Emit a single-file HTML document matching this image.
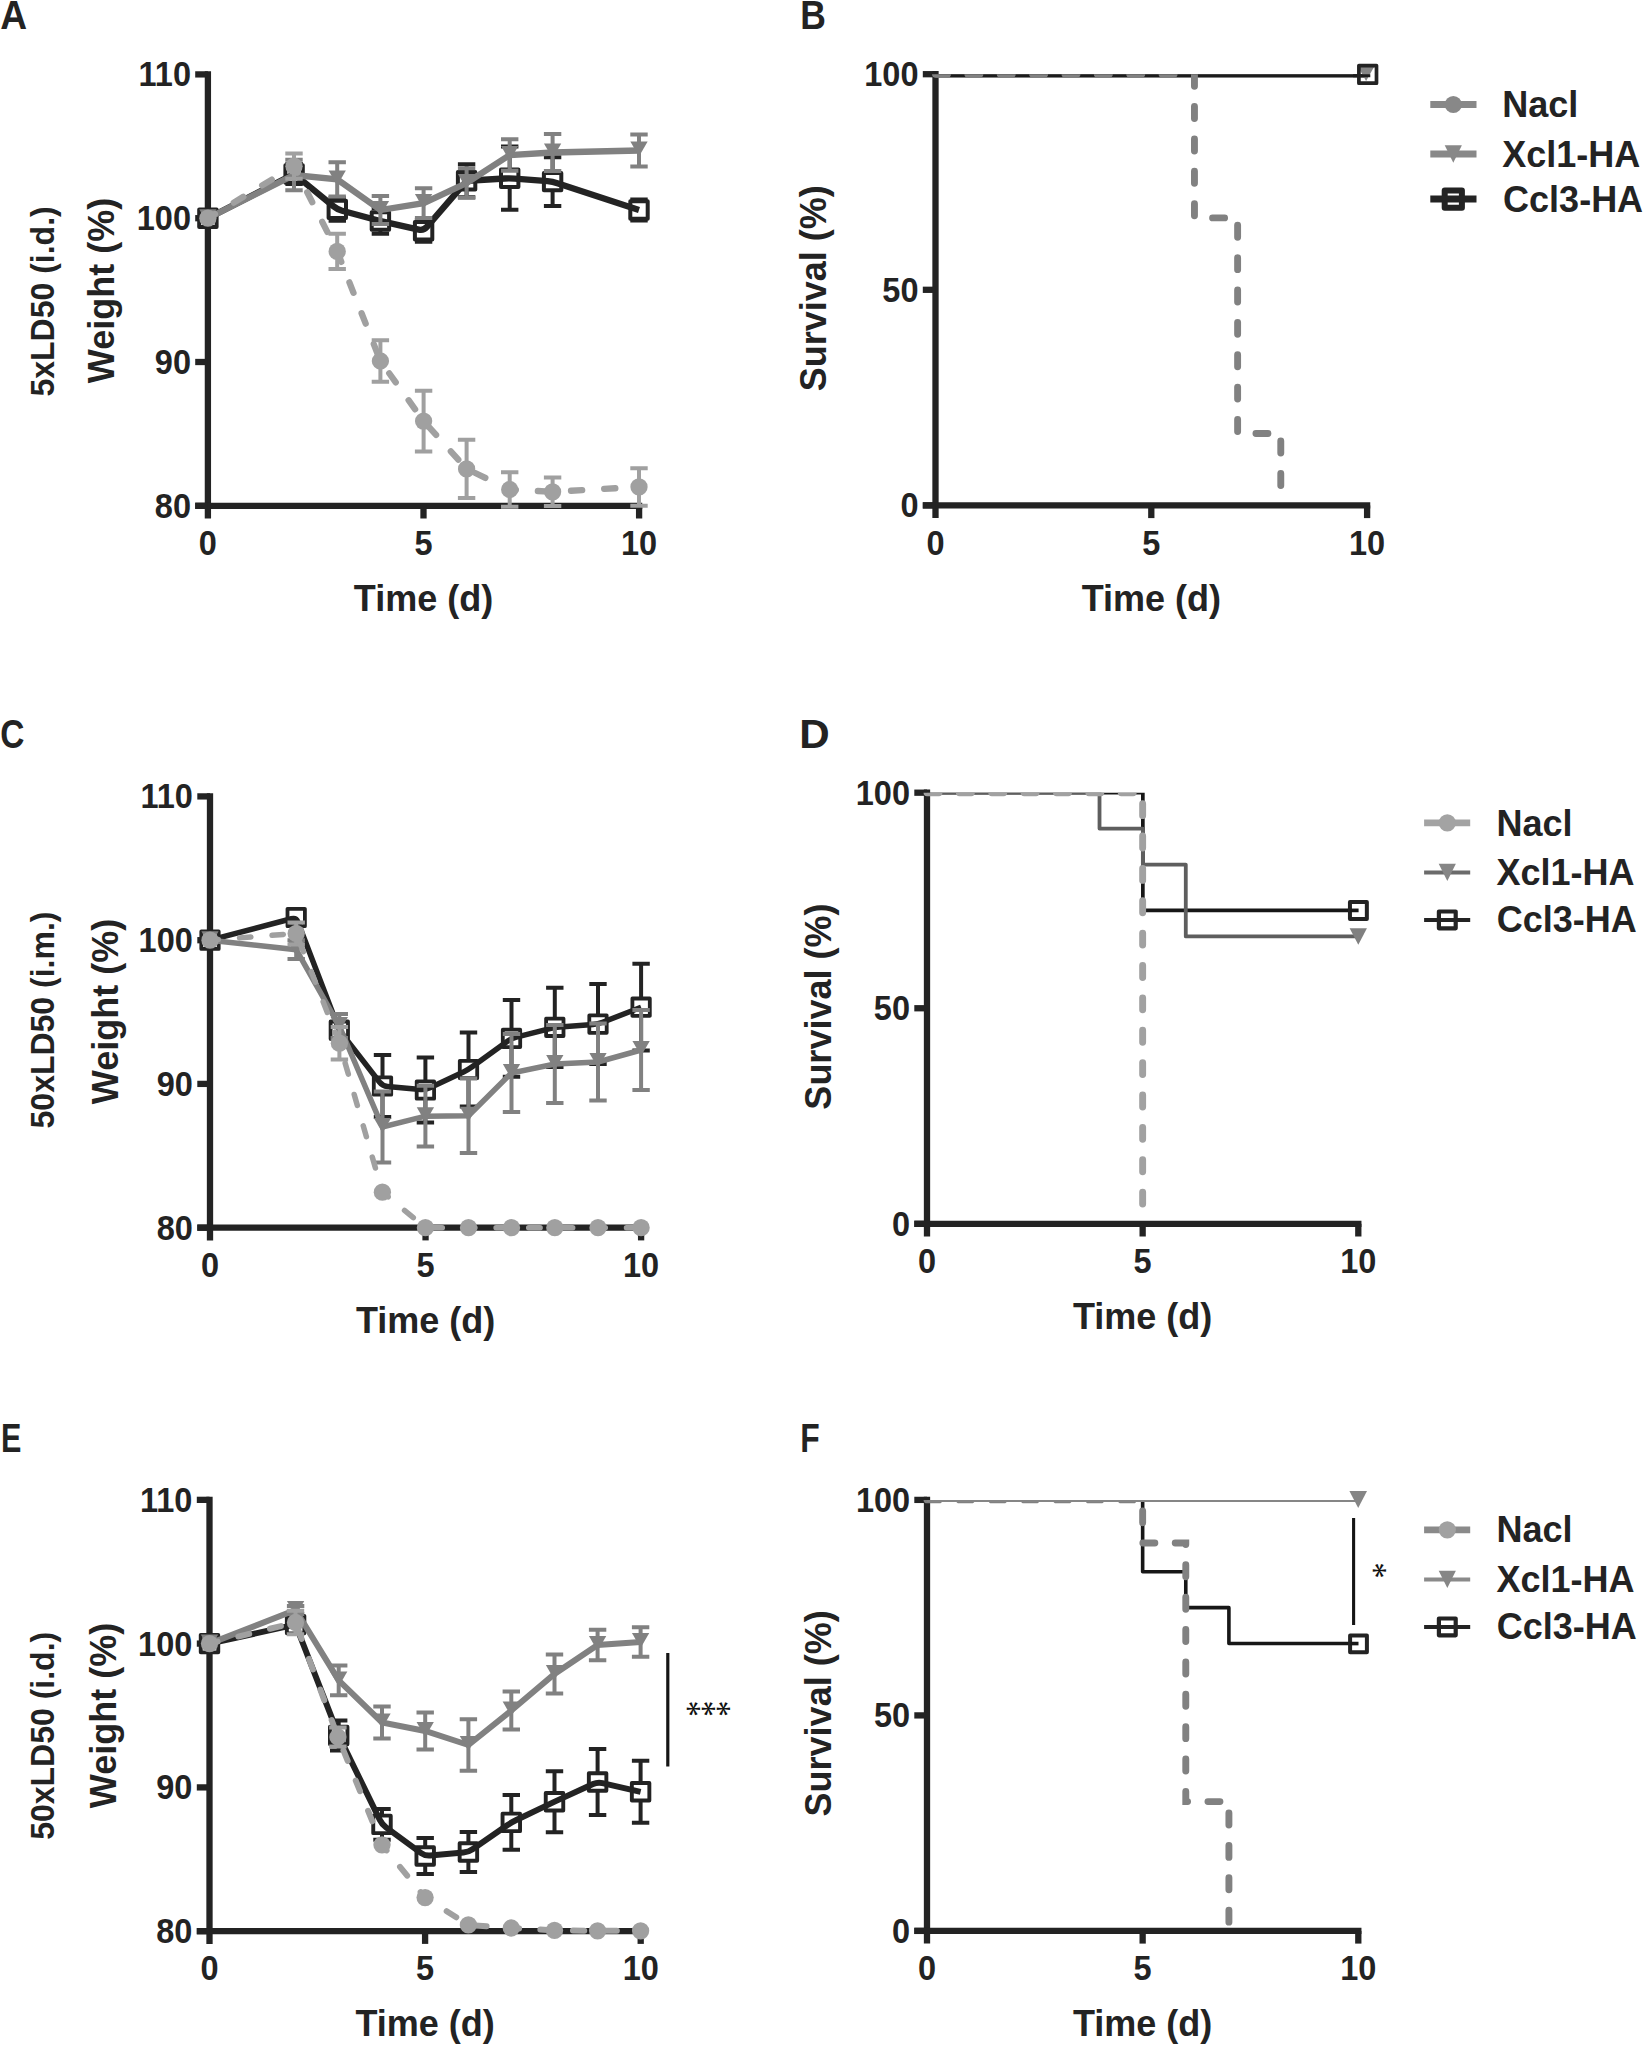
<!DOCTYPE html>
<html lang="en"><head><meta charset="utf-8"><title>Figure</title>
<style>html,body{margin:0;padding:0;background:#fff}svg{display:block}text{font-family:'Liberation Sans', Arial, Helvetica, sans-serif}</style>
</head><body>
<svg width="1643" height="2045" viewBox="0 0 1643 2045">
<rect width="1643" height="2045" fill="#ffffff"/>
<g id="panelA">
<text transform="translate(0.3 29) scale(0.9 1)" font-size="41.3" font-weight="bold" fill="#232323">A</text>
<path d="M207.9 71.25 V518.5" stroke="#232323" stroke-width="6.3" fill="none"/>
<path d="M195.2 505.8 H642.25" stroke="#232323" stroke-width="6.3" fill="none"/>
<path d="M195.2 74.4 H207.9" stroke="#232323" stroke-width="6.3"/>
<path d="M195.2 218.2 H207.9" stroke="#232323" stroke-width="6.3"/>
<path d="M195.2 362 H207.9" stroke="#232323" stroke-width="6.3"/>
<path d="M195.2 505.8 H207.9" stroke="#232323" stroke-width="6.3"/>
<path d="M423.5 505.8 V518.5" stroke="#232323" stroke-width="6.3"/>
<path d="M639.1 505.8 V518.5" stroke="#232323" stroke-width="6.3"/>
<path d="M294.1 164V184M285.4 164H302.8M285.4 184H302.8M337.3 198.1V220.7M328.6 198.1H346M328.6 220.7H346M380.4 208.3V233.7M371.7 208.3H389.1M371.7 233.7H389.1M423.6 219.7V241.7M414.9 219.7H432.3M414.9 241.7H432.3M466.6 164.3V197.3M457.9 164.3H475.3M457.9 197.3H475.3M509.7 146.6V209.8M501 146.6H518.4M501 209.8H518.4M552.6 157.3V205.9M543.9 157.3H561.3M543.9 205.9H561.3M639 199.6V220.4M630.3 199.6H647.7M630.3 220.4H647.7" stroke="#232323" stroke-width="4" fill="none"/>
<rect x="199.2" y="209.5" width="17.4" height="17.4" fill="#ffffff" stroke="#232323" stroke-width="4" stroke-linejoin="round"/>
<rect x="285.4" y="165.3" width="17.4" height="17.4" fill="#ffffff" stroke="#232323" stroke-width="4" stroke-linejoin="round"/>
<rect x="328.6" y="200.7" width="17.4" height="17.4" fill="#ffffff" stroke="#232323" stroke-width="4" stroke-linejoin="round"/>
<rect x="371.7" y="212.3" width="17.4" height="17.4" fill="#ffffff" stroke="#232323" stroke-width="4" stroke-linejoin="round"/>
<rect x="414.9" y="222" width="17.4" height="17.4" fill="#ffffff" stroke="#232323" stroke-width="4" stroke-linejoin="round"/>
<rect x="457.9" y="172.1" width="17.4" height="17.4" fill="#ffffff" stroke="#232323" stroke-width="4" stroke-linejoin="round"/>
<rect x="501" y="169.5" width="17.4" height="17.4" fill="#ffffff" stroke="#232323" stroke-width="4" stroke-linejoin="round"/>
<rect x="543.9" y="172.9" width="17.4" height="17.4" fill="#ffffff" stroke="#232323" stroke-width="4" stroke-linejoin="round"/>
<rect x="630.3" y="201.3" width="17.4" height="17.4" fill="#ffffff" stroke="#232323" stroke-width="4" stroke-linejoin="round"/>
<path d="M207.9 218.2 L289.65 176.28 Q294.1 174 297.97 177.17 L333.43 206.23 Q337.3 209.4 342.13 210.7 L375.57 219.7 Q380.4 221 385.28 222.1 L418.72 229.6 Q423.6 230.7 426.86 226.91 L463.34 184.59 Q466.6 180.8 471.59 180.5 L504.71 178.5 Q509.7 178.2 514.68 178.6 L547.62 181.2 Q552.6 181.6 557.35 183.16 L639 210" stroke="#232323" stroke-width="6.3" fill="none" stroke-linejoin="round"/>
<path d="M294 159.7V190.3M285.3 159.7H302.7M285.3 190.3H302.7M337.2 162.2V196.6M328.5 162.2H345.9M328.5 196.6H345.9M380.4 196V224M371.7 196H389.1M371.7 224H389.1M423.6 188.3V217.9M414.9 188.3H432.3M414.9 217.9H432.3M466.6 168.3V197.7M457.9 168.3H475.3M457.9 197.7H475.3M509.7 139.3V170.7M501 139.3H518.4M501 170.7H518.4M552.6 134.1V170.9M543.9 134.1H561.3M543.9 170.9H561.3M639 134.4V166.6M630.3 134.4H647.7M630.3 166.6H647.7" stroke="#818181" stroke-width="4" fill="none"/>
<path d="M207.9 218.2 L294 175 L337.2 179.4 L380.4 210 L423.6 203.1 L466.6 183 L509.7 155 L552.6 152.5 L639 150.5" stroke="#818181" stroke-width="6.3" fill="none" stroke-linejoin="miter"/>
<path d="M199.25 209.2H216.55L207.9 224.2Z" fill="#818181"/>
<path d="M285.35 166H302.65L294 181Z" fill="#818181"/>
<path d="M328.55 170.4H345.85L337.2 185.4Z" fill="#818181"/>
<path d="M371.75 201H389.05L380.4 216Z" fill="#818181"/>
<path d="M414.95 194.1H432.25L423.6 209.1Z" fill="#818181"/>
<path d="M457.95 174H475.25L466.6 189Z" fill="#818181"/>
<path d="M501.05 146H518.35L509.7 161Z" fill="#818181"/>
<path d="M543.95 143.5H561.25L552.6 158.5Z" fill="#818181"/>
<path d="M630.35 141.5H647.65L639 156.5Z" fill="#818181"/>
<path d="M294 153.6V178.8M285.3 153.6H302.7M285.3 178.8H302.7M337.2 233.7V269.1M328.5 233.7H345.9M328.5 269.1H345.9M380.4 340.3V381.7M371.7 340.3H389.1M371.7 381.7H389.1M423.6 390.7V451.5M414.9 390.7H432.3M414.9 451.5H432.3M466.6 439.7V498.1M457.9 439.7H475.3M457.9 498.1H475.3M509.7 472.2V506.8M501 472.2H518.4M501 506.8H518.4M552.6 477.5V506.1M543.9 477.5H561.3M543.9 506.1H561.3M639 468.15V505.65M630.3 468.15H647.7M630.3 505.65H647.7" stroke="#a0a0a0" stroke-width="4" fill="none"/>
<path d="M207.9 218.2 L294 166.2 L337.2 251.4 L380.4 361 L423.6 421.1 L466.6 468.9 L509.7 489.5 L552.6 491.8 L639 486.9" stroke="#a0a0a0" stroke-width="6.3" fill="none" stroke-linejoin="round" stroke-dasharray="11.2 22" stroke-dashoffset="3" stroke-linecap="round"/>
<circle cx="207.9" cy="218.2" r="8.65" fill="#a0a0a0"/>
<circle cx="294" cy="166.2" r="8.65" fill="#a0a0a0"/>
<circle cx="337.2" cy="251.4" r="8.65" fill="#a0a0a0"/>
<circle cx="380.4" cy="361" r="8.65" fill="#a0a0a0"/>
<circle cx="423.6" cy="421.1" r="8.65" fill="#a0a0a0"/>
<circle cx="466.6" cy="468.9" r="8.65" fill="#a0a0a0"/>
<circle cx="509.7" cy="489.5" r="8.65" fill="#a0a0a0"/>
<circle cx="552.6" cy="491.8" r="8.65" fill="#a0a0a0"/>
<circle cx="639" cy="486.9" r="8.65" fill="#a0a0a0"/>
<text transform="translate(191 86.4) scale(0.97 1.05)" font-size="33.5" font-weight="bold" text-anchor="end" fill="#232323">110</text>
<text transform="translate(191 230.2) scale(0.97 1.05)" font-size="33.5" font-weight="bold" text-anchor="end" fill="#232323">100</text>
<text transform="translate(191 374) scale(0.97 1.05)" font-size="33.5" font-weight="bold" text-anchor="end" fill="#232323">90</text>
<text transform="translate(191 517.8) scale(0.97 1.05)" font-size="33.5" font-weight="bold" text-anchor="end" fill="#232323">80</text>
<text transform="translate(207.9 555) scale(0.97 1.05)" font-size="33.5" font-weight="bold" text-anchor="middle" fill="#232323">0</text>
<text transform="translate(423.5 555) scale(0.97 1.05)" font-size="33.5" font-weight="bold" text-anchor="middle" fill="#232323">5</text>
<text transform="translate(639.1 555) scale(0.97 1.05)" font-size="33.5" font-weight="bold" text-anchor="middle" fill="#232323">10</text>
<text x="423.5" y="611" font-size="36" font-weight="bold" text-anchor="middle" fill="#232323">Time (d)</text>
<text transform="translate(54 301.4) rotate(-90) scale(1 1.035)" font-size="32" font-weight="bold" text-anchor="middle" fill="#232323">5xLD50 (i.d.)</text>
<text transform="translate(113.7 290.5) rotate(-90)" font-size="36" font-weight="bold" text-anchor="middle" fill="#232323">Weight (%)</text>
</g>
<g id="panelC">
<text transform="translate(0.2 748.3) scale(0.81 1)" font-size="41.3" font-weight="bold" fill="#232323">C</text>
<path d="M210 793.25 V1240.4" stroke="#232323" stroke-width="6.3" fill="none"/>
<path d="M197.3 1227.7 H644.25" stroke="#232323" stroke-width="6.3" fill="none"/>
<path d="M197.3 796.4 H210" stroke="#232323" stroke-width="6.3"/>
<path d="M197.3 940.2 H210" stroke="#232323" stroke-width="6.3"/>
<path d="M197.3 1083.9 H210" stroke="#232323" stroke-width="6.3"/>
<path d="M197.3 1227.7 H210" stroke="#232323" stroke-width="6.3"/>
<path d="M425.55 1227.7 V1240.4" stroke="#232323" stroke-width="6.3"/>
<path d="M641.1 1227.7 V1240.4" stroke="#232323" stroke-width="6.3"/>
<path d="M382.5 1055V1117M373.8 1055H391.2M373.8 1117H391.2M425.4 1057.4V1122.6M416.7 1057.4H434.1M416.7 1122.6H434.1M468.5 1032.5V1106.5M459.8 1032.5H477.2M459.8 1106.5H477.2M511.5 1000V1076.8M502.8 1000H520.2M502.8 1076.8H520.2M554.8 987.7V1066.9M546.1 987.7H563.5M546.1 1066.9H563.5M598 984.1V1064.1M589.3 984.1H606.7M589.3 1064.1H606.7M641.1 963.8V1050.6M632.4 963.8H649.8M632.4 1050.6H649.8" stroke="#232323" stroke-width="4" fill="none"/>
<rect x="201.3" y="931.5" width="17.4" height="17.4" fill="#ffffff" stroke="#232323" stroke-width="3.8" stroke-linejoin="round"/>
<rect x="287.5" y="908.8" width="17.4" height="17.4" fill="#ffffff" stroke="#232323" stroke-width="3.8" stroke-linejoin="round"/>
<rect x="330.6" y="1021.5" width="17.4" height="17.4" fill="#ffffff" stroke="#232323" stroke-width="3.8" stroke-linejoin="round"/>
<rect x="373.8" y="1077.3" width="17.4" height="17.4" fill="#ffffff" stroke="#232323" stroke-width="3.8" stroke-linejoin="round"/>
<rect x="416.7" y="1081.3" width="17.4" height="17.4" fill="#ffffff" stroke="#232323" stroke-width="3.8" stroke-linejoin="round"/>
<rect x="459.8" y="1060.8" width="17.4" height="17.4" fill="#ffffff" stroke="#232323" stroke-width="3.8" stroke-linejoin="round"/>
<rect x="502.8" y="1029.7" width="17.4" height="17.4" fill="#ffffff" stroke="#232323" stroke-width="3.8" stroke-linejoin="round"/>
<rect x="546.1" y="1018.6" width="17.4" height="17.4" fill="#ffffff" stroke="#232323" stroke-width="3.8" stroke-linejoin="round"/>
<rect x="589.3" y="1015.4" width="17.4" height="17.4" fill="#ffffff" stroke="#232323" stroke-width="3.8" stroke-linejoin="round"/>
<rect x="632.4" y="998.5" width="17.4" height="17.4" fill="#ffffff" stroke="#232323" stroke-width="3.8" stroke-linejoin="round"/>
<path d="M210 940.2 L291.36 918.77 Q296.2 917.5 297.99 922.17 L337.51 1025.53 Q339.3 1030.2 342.36 1034.15 L379.44 1082.05 Q382.5 1086 387.48 1086.46 L420.42 1089.54 Q425.4 1090 429.92 1087.85 L463.98 1071.65 Q468.5 1069.5 472.55 1066.57 L507.45 1041.33 Q511.5 1038.4 516.34 1037.16 L549.96 1028.54 Q554.8 1027.3 559.79 1026.93 L593.01 1024.47 Q598 1024.1 602.65 1022.27 L641.1 1007.2" stroke="#232323" stroke-width="5.5" fill="none" stroke-linejoin="round"/>
<path d="M296.2 940.3V959.1M287.5 940.3H304.9M287.5 959.1H304.9M339.3 1014V1038M330.6 1014H348M330.6 1038H348M382.5 1091.5V1162.5M373.8 1091.5H391.2M373.8 1162.5H391.2M425.4 1085.8V1146.6M416.7 1085.8H434.1M416.7 1146.6H434.1M468.5 1078.5V1152.9M459.8 1078.5H477.2M459.8 1152.9H477.2M511.5 1034V1112M502.8 1034H520.2M502.8 1112H520.2M554.8 1025V1103M546.1 1025H563.5M546.1 1103H563.5M598 1023.5V1100.5M589.3 1023.5H606.7M589.3 1100.5H606.7M641.1 1010V1090M632.4 1010H649.8M632.4 1090H649.8" stroke="#818181" stroke-width="4" fill="none"/>
<path d="M210 940.2 L296.2 949.7 L339.3 1026 L382.5 1127 L425.4 1116.2 L468.5 1115.7 L511.5 1073 L554.8 1064 L598 1062 L641.1 1050" stroke="#818181" stroke-width="5.5" fill="none" stroke-linejoin="miter"/>
<path d="M201.35 931.2H218.65L210 946.2Z" fill="#818181"/>
<path d="M287.55 940.7H304.85L296.2 955.7Z" fill="#818181"/>
<path d="M330.65 1017H347.95L339.3 1032Z" fill="#818181"/>
<path d="M373.85 1118H391.15L382.5 1133Z" fill="#818181"/>
<path d="M416.75 1107.2H434.05L425.4 1122.2Z" fill="#818181"/>
<path d="M459.85 1106.7H477.15L468.5 1121.7Z" fill="#818181"/>
<path d="M502.85 1064H520.15L511.5 1079Z" fill="#818181"/>
<path d="M546.15 1055H563.45L554.8 1070Z" fill="#818181"/>
<path d="M589.35 1053H606.65L598 1068Z" fill="#818181"/>
<path d="M632.45 1041H649.75L641.1 1056Z" fill="#818181"/>
<path d="M296.2 922.4V944.4M287.5 922.4H304.9M287.5 944.4H304.9M339.4 1026.9V1059.5M330.7 1026.9H348.1M330.7 1059.5H348.1" stroke="#a0a0a0" stroke-width="4" fill="none"/>
<path d="M210 940.2 L296.2 933.4 L339.4 1043.2 L382.4 1192.2 L425.4 1227.7 L468.5 1227.7 L511.5 1227.7 L554.8 1227.7 L598 1227.7 L641.1 1227.7" stroke="#a0a0a0" stroke-width="5.5" fill="none" stroke-linejoin="round" stroke-dasharray="11.4 21.2" stroke-dashoffset="3" stroke-linecap="round"/>
<circle cx="210" cy="940.2" r="8.65" fill="#a0a0a0"/>
<circle cx="296.2" cy="933.4" r="8.65" fill="#a0a0a0"/>
<circle cx="339.4" cy="1043.2" r="8.65" fill="#a0a0a0"/>
<circle cx="382.4" cy="1192.2" r="8.65" fill="#a0a0a0"/>
<circle cx="425.4" cy="1227.7" r="8.65" fill="#a0a0a0"/>
<circle cx="468.5" cy="1227.7" r="8.65" fill="#a0a0a0"/>
<circle cx="511.5" cy="1227.7" r="8.65" fill="#a0a0a0"/>
<circle cx="554.8" cy="1227.7" r="8.65" fill="#a0a0a0"/>
<circle cx="598" cy="1227.7" r="8.65" fill="#a0a0a0"/>
<circle cx="641.1" cy="1227.7" r="8.65" fill="#a0a0a0"/>
<text transform="translate(192.8 808.4) scale(0.97 1.05)" font-size="33.5" font-weight="bold" text-anchor="end" fill="#232323">110</text>
<text transform="translate(192.8 952.2) scale(0.97 1.05)" font-size="33.5" font-weight="bold" text-anchor="end" fill="#232323">100</text>
<text transform="translate(192.8 1095.9) scale(0.97 1.05)" font-size="33.5" font-weight="bold" text-anchor="end" fill="#232323">90</text>
<text transform="translate(192.8 1239.7) scale(0.97 1.05)" font-size="33.5" font-weight="bold" text-anchor="end" fill="#232323">80</text>
<text transform="translate(210 1276.9) scale(0.97 1.05)" font-size="33.5" font-weight="bold" text-anchor="middle" fill="#232323">0</text>
<text transform="translate(425.55 1276.9) scale(0.97 1.05)" font-size="33.5" font-weight="bold" text-anchor="middle" fill="#232323">5</text>
<text transform="translate(641.1 1276.9) scale(0.97 1.05)" font-size="33.5" font-weight="bold" text-anchor="middle" fill="#232323">10</text>
<text x="425.55" y="1332.9" font-size="36" font-weight="bold" text-anchor="middle" fill="#232323">Time (d)</text>
<text transform="translate(54 1020) rotate(-90) scale(1 1.035)" font-size="32" font-weight="bold" text-anchor="middle" fill="#232323">50xLD50 (i.m.)</text>
<text transform="translate(118 1011.5) rotate(-90)" font-size="36" font-weight="bold" text-anchor="middle" fill="#232323">Weight (%)</text>
</g>
<g id="panelE">
<text transform="translate(1.1 1451.7) scale(0.74 1)" font-size="41.3" font-weight="bold" fill="#232323">E</text>
<path d="M209.5 1496.7 V1943.9" stroke="#232323" stroke-width="6.3" fill="none"/>
<path d="M196.8 1931.2 H643.85" stroke="#232323" stroke-width="6.3" fill="none"/>
<path d="M196.8 1499.85 H209.5" stroke="#232323" stroke-width="6.3"/>
<path d="M196.8 1643.6 H209.5" stroke="#232323" stroke-width="6.3"/>
<path d="M196.8 1787.4 H209.5" stroke="#232323" stroke-width="6.3"/>
<path d="M196.8 1931.2 H209.5" stroke="#232323" stroke-width="6.3"/>
<path d="M425.1 1931.2 V1943.9" stroke="#232323" stroke-width="6.3"/>
<path d="M640.7 1931.2 V1943.9" stroke="#232323" stroke-width="6.3"/>
<path d="M295.6 1618.6V1630.6M286.9 1618.6H304.3M286.9 1630.6H304.3M338.7 1720.5V1750.5M330 1720.5H347.4M330 1750.5H347.4M382 1809V1839.8M373.3 1809H390.7M373.3 1839.8H390.7M425.2 1838V1874M416.5 1838H433.9M416.5 1874H433.9M468.4 1832V1872M459.7 1832H477.1M459.7 1872H477.1M511.3 1795V1849.8M502.6 1795H520M502.6 1849.8H520M554.5 1771.2V1832.2M545.8 1771.2H563.2M545.8 1832.2H563.2M597.6 1749V1815M588.9 1749H606.3M588.9 1815H606.3M640.6 1760.8V1822.8M631.9 1760.8H649.3M631.9 1822.8H649.3" stroke="#232323" stroke-width="4" fill="none"/>
<rect x="200.75" y="1634.85" width="17.5" height="17.5" fill="#ffffff" stroke="#232323" stroke-width="3.9" stroke-linejoin="round"/>
<rect x="286.85" y="1615.85" width="17.5" height="17.5" fill="#ffffff" stroke="#232323" stroke-width="3.9" stroke-linejoin="round"/>
<rect x="329.95" y="1726.75" width="17.5" height="17.5" fill="#ffffff" stroke="#232323" stroke-width="3.9" stroke-linejoin="round"/>
<rect x="373.25" y="1815.65" width="17.5" height="17.5" fill="#ffffff" stroke="#232323" stroke-width="3.9" stroke-linejoin="round"/>
<rect x="416.45" y="1847.25" width="17.5" height="17.5" fill="#ffffff" stroke="#232323" stroke-width="3.9" stroke-linejoin="round"/>
<rect x="459.65" y="1843.25" width="17.5" height="17.5" fill="#ffffff" stroke="#232323" stroke-width="3.9" stroke-linejoin="round"/>
<rect x="502.55" y="1813.65" width="17.5" height="17.5" fill="#ffffff" stroke="#232323" stroke-width="3.9" stroke-linejoin="round"/>
<rect x="545.75" y="1792.95" width="17.5" height="17.5" fill="#ffffff" stroke="#232323" stroke-width="3.9" stroke-linejoin="round"/>
<rect x="588.85" y="1773.25" width="17.5" height="17.5" fill="#ffffff" stroke="#232323" stroke-width="3.9" stroke-linejoin="round"/>
<rect x="631.85" y="1783.05" width="17.5" height="17.5" fill="#ffffff" stroke="#232323" stroke-width="3.9" stroke-linejoin="round"/>
<path d="M209.5 1643.6 L290.72 1625.68 Q295.6 1624.6 297.41 1629.26 L336.89 1730.84 Q338.7 1735.5 340.89 1740 L379.81 1819.9 Q382 1824.4 386.04 1827.35 L421.16 1853.05 Q425.2 1856 430.18 1855.54 L463.42 1852.46 Q468.4 1852 472.52 1849.16 L507.18 1825.24 Q511.3 1822.4 515.81 1820.24 L549.99 1803.86 Q554.5 1801.7 559.05 1799.62 L593.05 1784.08 Q597.6 1782 602.47 1783.11 L640.6 1791.8" stroke="#232323" stroke-width="6" fill="none" stroke-linejoin="round"/>
<path d="M295.6 1606V1614M286.9 1606H304.3M286.9 1614H304.3M338.7 1665.6V1695.2M330 1665.6H347.4M330 1695.2H347.4M382 1706.5V1738.5M373.3 1706.5H390.7M373.3 1738.5H390.7M425.2 1712.6V1749.4M416.5 1712.6H433.9M416.5 1749.4H433.9M468.4 1719.2V1770.8M459.7 1719.2H477.1M459.7 1770.8H477.1M511.3 1691.5V1729.5M502.6 1691.5H520M502.6 1729.5H520M554.5 1654.6V1693.4M545.8 1654.6H563.2M545.8 1693.4H563.2M597.6 1629.8V1660.2M588.9 1629.8H606.3M588.9 1660.2H606.3M640.6 1627.2V1656.8M631.9 1627.2H649.3M631.9 1656.8H649.3" stroke="#818181" stroke-width="4" fill="none"/>
<path d="M209.5 1643.6 L295.6 1610 L338.7 1680.4 L382 1722.5 L425.2 1731 L468.4 1745 L511.3 1710.5 L554.5 1674 L597.6 1645 L640.6 1642" stroke="#818181" stroke-width="6" fill="none" stroke-linejoin="miter"/>
<path d="M200.85 1634.6H218.15L209.5 1649.6Z" fill="#818181"/>
<path d="M286.95 1601H304.25L295.6 1616Z" fill="#818181"/>
<path d="M330.05 1671.4H347.35L338.7 1686.4Z" fill="#818181"/>
<path d="M373.35 1713.5H390.65L382 1728.5Z" fill="#818181"/>
<path d="M416.55 1722H433.85L425.2 1737Z" fill="#818181"/>
<path d="M459.75 1736H477.05L468.4 1751Z" fill="#818181"/>
<path d="M502.65 1701.5H519.95L511.3 1716.5Z" fill="#818181"/>
<path d="M545.85 1665H563.15L554.5 1680Z" fill="#818181"/>
<path d="M588.95 1636H606.25L597.6 1651Z" fill="#818181"/>
<path d="M631.95 1633H649.25L640.6 1648Z" fill="#818181"/>
<path d="M295.5 1610.7V1634.3M286.8 1610.7H304.2M286.8 1634.3H304.2M337.9 1727.4V1746.6M329.2 1727.4H346.6M329.2 1746.6H346.6" stroke="#a0a0a0" stroke-width="4" fill="none"/>
<path d="M209.5 1643.6 L295.5 1622.5 L337.9 1737 L382 1844.8 L425.1 1897.6 L468.4 1924.9 L511.3 1928 L554.5 1930.4 L597.6 1930.8 L640.6 1930.8" stroke="#a0a0a0" stroke-width="6" fill="none" stroke-linejoin="round" stroke-dasharray="11.3 21.3" stroke-dashoffset="3" stroke-linecap="round"/>
<circle cx="209.5" cy="1643.6" r="8.65" fill="#a0a0a0"/>
<circle cx="295.5" cy="1622.5" r="8.65" fill="#a0a0a0"/>
<circle cx="337.9" cy="1737" r="8.65" fill="#a0a0a0"/>
<circle cx="382" cy="1844.8" r="8.65" fill="#a0a0a0"/>
<circle cx="425.1" cy="1897.6" r="8.65" fill="#a0a0a0"/>
<circle cx="468.4" cy="1924.9" r="8.65" fill="#a0a0a0"/>
<circle cx="511.3" cy="1928" r="8.65" fill="#a0a0a0"/>
<circle cx="554.5" cy="1930.4" r="8.65" fill="#a0a0a0"/>
<circle cx="597.6" cy="1930.8" r="8.65" fill="#a0a0a0"/>
<circle cx="640.6" cy="1930.8" r="8.65" fill="#a0a0a0"/>
<text transform="translate(192.3 1511.85) scale(0.97 1.05)" font-size="33.5" font-weight="bold" text-anchor="end" fill="#232323">110</text>
<text transform="translate(192.3 1655.6) scale(0.97 1.05)" font-size="33.5" font-weight="bold" text-anchor="end" fill="#232323">100</text>
<text transform="translate(192.3 1799.4) scale(0.97 1.05)" font-size="33.5" font-weight="bold" text-anchor="end" fill="#232323">90</text>
<text transform="translate(192.3 1943.2) scale(0.97 1.05)" font-size="33.5" font-weight="bold" text-anchor="end" fill="#232323">80</text>
<text transform="translate(209.5 1980.4) scale(0.97 1.05)" font-size="33.5" font-weight="bold" text-anchor="middle" fill="#232323">0</text>
<text transform="translate(425.1 1980.4) scale(0.97 1.05)" font-size="33.5" font-weight="bold" text-anchor="middle" fill="#232323">5</text>
<text transform="translate(640.7 1980.4) scale(0.97 1.05)" font-size="33.5" font-weight="bold" text-anchor="middle" fill="#232323">10</text>
<text x="425.1" y="2036.4" font-size="36" font-weight="bold" text-anchor="middle" fill="#232323">Time (d)</text>
<text transform="translate(54 1735.8) rotate(-90) scale(1 1.035)" font-size="32" font-weight="bold" text-anchor="middle" fill="#232323">50xLD50 (i.d.)</text>
<text transform="translate(115.9 1715.5) rotate(-90)" font-size="36" font-weight="bold" text-anchor="middle" fill="#232323">Weight (%)</text>
<path d="M667.8 1653V1766.5" stroke="#151515" stroke-width="3.2"/>
<text transform="translate(693.35 1708.8) rotate(90) scale(0.95 1.05)" x="0" y="16.08" font-size="34" text-anchor="middle" font-weight="normal" fill="#111111" style="font-family:'Liberation Serif','Times New Roman',serif">*</text>
<text transform="translate(708.35 1708.8) rotate(90) scale(0.95 1.05)" x="0" y="16.08" font-size="34" text-anchor="middle" font-weight="normal" fill="#111111" style="font-family:'Liberation Serif','Times New Roman',serif">*</text>
<text transform="translate(723.3 1708.8) rotate(90) scale(0.95 1.05)" x="0" y="16.08" font-size="34" text-anchor="middle" font-weight="normal" fill="#111111" style="font-family:'Liberation Serif','Times New Roman',serif">*</text>
</g>
<g id="panelB">
<text transform="translate(800.3 29.2) scale(0.86 1)" font-size="41.3" font-weight="bold" fill="#232323">B</text>
<path d="M935.5 71.05 V518.1" stroke="#232323" stroke-width="6.3" fill="none"/>
<path d="M922.8 505.4 H1370.25" stroke="#232323" stroke-width="6.3" fill="none"/>
<path d="M922.8 74.2 H935.5" stroke="#232323" stroke-width="6.3"/>
<path d="M922.8 289.8 H935.5" stroke="#232323" stroke-width="6.3"/>
<path d="M922.8 505.4 H935.5" stroke="#232323" stroke-width="6.3"/>
<path d="M1151.3 505.4 V518.1" stroke="#232323" stroke-width="6.3"/>
<path d="M1367.1 505.4 V518.1" stroke="#232323" stroke-width="6.3"/>
<clipPath id="clipB"><rect x="900" y="74.3" width="600" height="500"/></clipPath>
<g clip-path="url(#clipB)">
<path d="M935.5 74.2H1367.1" stroke="#858585" stroke-width="7"/>
<path d="M935.5 74.2H1367.1" stroke="#1c1c1c" stroke-width="6.2"/>
<path d="M935.5 74.2H1194.46V217.92H1237.62V433.52H1280.78V502.4" stroke="#818181" stroke-width="6.9" fill="none" stroke-dasharray="12 20.37" stroke-linecap="round"/>
</g>
<path d="M1357.45 65.8H1374.75L1366.1 81.1Z" fill="#858585"/>
<path clip-path="url(#clipB)" d="M1353.1 74.2H1370.3" stroke="#1c1c1c" stroke-width="6.2"/>
<rect x="1358.9" y="65.6" width="17.6" height="17.6" fill="none" stroke="#232323" stroke-width="3.7" stroke-linejoin="round"/>
<text transform="translate(918.5 86.2) scale(0.97 1.05)" font-size="33.5" font-weight="bold" text-anchor="end" fill="#232323">100</text>
<text transform="translate(918.5 301.8) scale(0.97 1.05)" font-size="33.5" font-weight="bold" text-anchor="end" fill="#232323">50</text>
<text transform="translate(918.5 517.4) scale(0.97 1.05)" font-size="33.5" font-weight="bold" text-anchor="end" fill="#232323">0</text>
<text transform="translate(935.5 554.6) scale(0.97 1.05)" font-size="33.5" font-weight="bold" text-anchor="middle" fill="#232323">0</text>
<text transform="translate(1151.3 554.6) scale(0.97 1.05)" font-size="33.5" font-weight="bold" text-anchor="middle" fill="#232323">5</text>
<text transform="translate(1367.1 554.6) scale(0.97 1.05)" font-size="33.5" font-weight="bold" text-anchor="middle" fill="#232323">10</text>
<text x="1151.3" y="610.6" font-size="36" font-weight="bold" text-anchor="middle" fill="#232323">Time (d)</text>
<text transform="translate(825.6 288.3) rotate(-90)" font-size="36" font-weight="bold" text-anchor="middle" fill="#232323">Survival (%)</text>
<path d="M1430.3 104.5H1476.5" stroke="#888888" stroke-width="7"/>
<circle cx="1453.3" cy="104.5" r="8.6" fill="#888888"/>
<path d="M1430.3 154H1476.5" stroke="#888888" stroke-width="7"/>
<path d="M1444.7 145.3H1461.9L1453.3 162.7Z" fill="#888888"/>
<rect x="1444.7" y="190.5" width="17.2" height="17.2" fill="#ffffff" stroke="#232323" stroke-width="6" stroke-linejoin="round"/>
<path d="M1430.3 199.1H1476.5" stroke="#232323" stroke-width="7"/>
<text x="1502.2" y="117" font-size="36" font-weight="bold" text-anchor="start" fill="#232323">Nacl</text>
<text x="1502.2" y="166.9" font-size="36" font-weight="bold" text-anchor="start" fill="#232323">Xcl1-HA</text>
<text x="1503.1" y="212" font-size="36" font-weight="bold" text-anchor="start" fill="#232323">Ccl3-HA</text>
</g>
<g id="panelD">
<text transform="translate(799.3 748.1) scale(1.02 1)" font-size="41.3" font-weight="bold" fill="#232323">D</text>
<path d="M927 789.55 V1236.5" stroke="#232323" stroke-width="6.3" fill="none"/>
<path d="M914.3 1223.8 H1361.45" stroke="#232323" stroke-width="6.3" fill="none"/>
<path d="M914.3 792.7 H927" stroke="#232323" stroke-width="6.3"/>
<path d="M914.3 1008.25 H927" stroke="#232323" stroke-width="6.3"/>
<path d="M914.3 1223.8 H927" stroke="#232323" stroke-width="6.3"/>
<path d="M1142.65 1223.8 V1236.5" stroke="#232323" stroke-width="6.3"/>
<path d="M1358.3 1223.8 V1236.5" stroke="#232323" stroke-width="6.3"/>
<clipPath id="clipD"><rect x="900" y="792.8" width="600" height="500"/></clipPath>
<g clip-path="url(#clipD)">
<path d="M927 792.7H1142.85V910.39H1358.3" stroke="#171717" stroke-width="3.7" fill="none" stroke-linejoin="round"/>
<path d="M927 792.7H1099.52V828.61H1142.85V864.56H1185.78V936.39H1358.3" stroke="#5e5e5e" stroke-width="3.8" fill="none" stroke-linejoin="round"/>
<path d="M927 792.7H1142.65V1220.8" stroke="#a1a1a1" stroke-width="6.9" fill="none" stroke-dasharray="12 20.37" stroke-linecap="round"/>
</g>
<path d="M1349.65 928.34H1366.95L1358.3 944.84Z" fill="#808080"/>
<rect x="1349.95" y="902.04" width="16.9" height="16.9" fill="#ffffff" stroke="#232323" stroke-width="4" stroke-linejoin="round"/>
<path d="M1350.3 910.39H1358.6" stroke="#171717" stroke-width="3.7"/>
<text transform="translate(910 804.7) scale(0.97 1.05)" font-size="33.5" font-weight="bold" text-anchor="end" fill="#232323">100</text>
<text transform="translate(910 1020.25) scale(0.97 1.05)" font-size="33.5" font-weight="bold" text-anchor="end" fill="#232323">50</text>
<text transform="translate(910 1235.8) scale(0.97 1.05)" font-size="33.5" font-weight="bold" text-anchor="end" fill="#232323">0</text>
<text transform="translate(927 1273) scale(0.97 1.05)" font-size="33.5" font-weight="bold" text-anchor="middle" fill="#232323">0</text>
<text transform="translate(1142.65 1273) scale(0.97 1.05)" font-size="33.5" font-weight="bold" text-anchor="middle" fill="#232323">5</text>
<text transform="translate(1358.3 1273) scale(0.97 1.05)" font-size="33.5" font-weight="bold" text-anchor="middle" fill="#232323">10</text>
<text x="1142.65" y="1329" font-size="36" font-weight="bold" text-anchor="middle" fill="#232323">Time (d)</text>
<text transform="translate(831.3 1006.6) rotate(-90)" font-size="36" font-weight="bold" text-anchor="middle" fill="#232323">Survival (%)</text>
<path d="M1424.1 822.9H1470.2" stroke="#a3a3a3" stroke-width="6.8"/>
<circle cx="1447.3" cy="822.9" r="8.6" fill="#a3a3a3"/>
<path d="M1424.1 872.4H1470.2" stroke="#6b6b6b" stroke-width="4"/>
<path d="M1438.7 863.7H1455.9L1447.3 881.1Z" fill="#868686"/>
<rect x="1438.9" y="911.5" width="16.8" height="16.8" fill="#ffffff" stroke="#232323" stroke-width="4.2" stroke-linejoin="round"/>
<path d="M1424.1 919.9H1470.2" stroke="#232323" stroke-width="4"/>
<text x="1496.4" y="835.5" font-size="36" font-weight="bold" text-anchor="start" fill="#232323">Nacl</text>
<text x="1496.4" y="885" font-size="36" font-weight="bold" text-anchor="start" fill="#232323">Xcl1-HA</text>
<text x="1496.8" y="932.3" font-size="36" font-weight="bold" text-anchor="start" fill="#232323">Ccl3-HA</text>
</g>
<g id="panelF">
<text transform="translate(800.2 1451.7) scale(0.77 1)" font-size="41.3" font-weight="bold" fill="#232323">F</text>
<path d="M927 1496.75 V1943.6" stroke="#232323" stroke-width="6.3" fill="none"/>
<path d="M914.3 1930.9 H1361.45" stroke="#232323" stroke-width="6.3" fill="none"/>
<path d="M914.3 1499.9 H927" stroke="#232323" stroke-width="6.3"/>
<path d="M914.3 1715.4 H927" stroke="#232323" stroke-width="6.3"/>
<path d="M914.3 1930.9 H927" stroke="#232323" stroke-width="6.3"/>
<path d="M1142.65 1930.9 V1943.6" stroke="#232323" stroke-width="6.3"/>
<path d="M1358.3 1930.9 V1943.6" stroke="#232323" stroke-width="6.3"/>
<clipPath id="clipF"><rect x="900" y="1500" width="600" height="500"/></clipPath>
<g clip-path="url(#clipF)">
<path d="M1142.65 1499.9V1571.75H1185.78V1607.65H1228.91V1643.55H1358.3" stroke="#171717" stroke-width="3.6" fill="none" stroke-linejoin="round"/>
<path d="M927 1499.9H1142.65V1543H1185.78V1801.6H1228.91V1927.9" stroke="#818181" stroke-width="6.9" fill="none" stroke-dasharray="12 20.37" stroke-linecap="round"/>
<path d="M927 1499.9H1358.3" stroke="#868686" stroke-width="4.4"/>
</g>
<rect x="1350.1" y="1635.55" width="16.8" height="16.8" fill="#ffffff" stroke="#232323" stroke-width="4" stroke-linejoin="round"/>
<path d="M1350.3 1643.55H1358.5" stroke="#171717" stroke-width="3.6"/>
<path d="M1349.4 1491.1H1367L1358.2 1508.1Z" fill="#858585"/>
<text transform="translate(910.1 1511.9) scale(0.97 1.05)" font-size="33.5" font-weight="bold" text-anchor="end" fill="#232323">100</text>
<text transform="translate(910.1 1727.4) scale(0.97 1.05)" font-size="33.5" font-weight="bold" text-anchor="end" fill="#232323">50</text>
<text transform="translate(910.1 1942.9) scale(0.97 1.05)" font-size="33.5" font-weight="bold" text-anchor="end" fill="#232323">0</text>
<text transform="translate(927 1980.1) scale(0.97 1.05)" font-size="33.5" font-weight="bold" text-anchor="middle" fill="#232323">0</text>
<text transform="translate(1142.65 1980.1) scale(0.97 1.05)" font-size="33.5" font-weight="bold" text-anchor="middle" fill="#232323">5</text>
<text transform="translate(1358.3 1980.1) scale(0.97 1.05)" font-size="33.5" font-weight="bold" text-anchor="middle" fill="#232323">10</text>
<text x="1142.65" y="2036.1" font-size="36" font-weight="bold" text-anchor="middle" fill="#232323">Time (d)</text>
<text transform="translate(831.3 1713.4) rotate(-90)" font-size="36" font-weight="bold" text-anchor="middle" fill="#232323">Survival (%)</text>
<path d="M1353.6 1518V1625" stroke="#151515" stroke-width="3.1"/>
<text transform="translate(1378.9 1570.6) rotate(90) scale(0.95 1.05)" x="0" y="16.08" font-size="34" text-anchor="middle" font-weight="normal" fill="#111111" style="font-family:'Liberation Serif','Times New Roman',serif">*</text>
<path d="M1424.1 1529.8H1470.2" stroke="#8a8a8a" stroke-width="6.8"/>
<circle cx="1447.3" cy="1529.8" r="8.6" fill="#a1a1a1"/>
<path d="M1424.1 1579.4H1470.2" stroke="#8a8a8a" stroke-width="4"/>
<path d="M1438.7 1570.7H1455.9L1447.3 1588.1Z" fill="#868686"/>
<rect x="1438.9" y="1618.5" width="16.8" height="16.8" fill="#ffffff" stroke="#232323" stroke-width="4.2" stroke-linejoin="round"/>
<path d="M1424.1 1626.9H1470.2" stroke="#232323" stroke-width="4"/>
<text x="1496.4" y="1542.4" font-size="36" font-weight="bold" text-anchor="start" fill="#232323">Nacl</text>
<text x="1496.4" y="1592" font-size="36" font-weight="bold" text-anchor="start" fill="#232323">Xcl1-HA</text>
<text x="1496.8" y="1639.3" font-size="36" font-weight="bold" text-anchor="start" fill="#232323">Ccl3-HA</text>
</g>
</svg>
</body></html>
